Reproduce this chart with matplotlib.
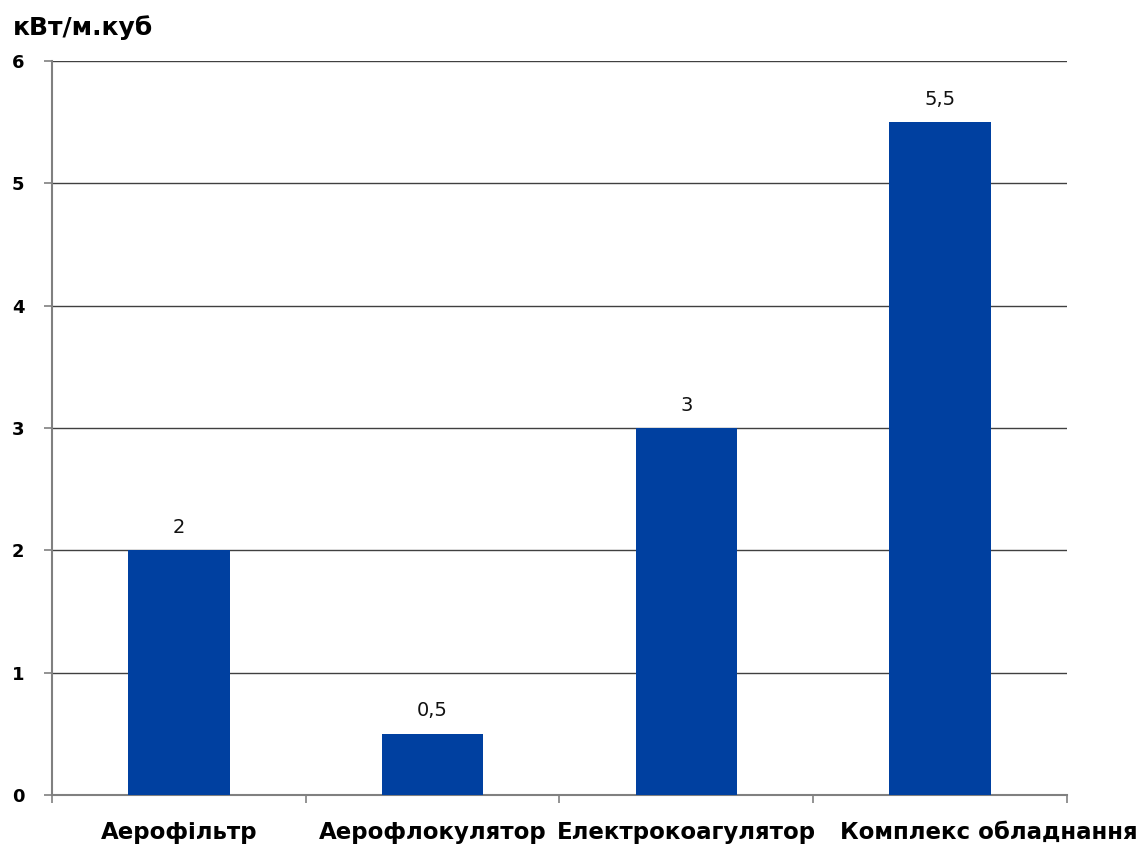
import matplotlib.pyplot as plt

categories = ['Аерофільтр', 'Аерофлокулятор', 'Електрокоагулятор', 'Комплекс обладнання']
values = [2, 0.5, 3, 5.5]
value_labels = ['2', '0,5', '3', '5,5']
y_ticks = [0, 1, 2, 3, 4, 5, 6]

plt.rcParams['font.family'] = ['DejaVu Sans']

fig = plt.figure(figsize=(11.43, 8.48), dpi=100)
ax = fig.add_axes([0.0455, 0.0625, 0.888, 0.8655])

x = list(range(len(categories)))
ax.bar(x, values, width=0.4, color='#0040a0', zorder=3)

for xi, v, lbl in zip(x, values, value_labels):
    ax.text(xi, v + 0.11, lbl, ha='center', va='bottom', fontsize=14, color='#111111')

ax.set_xlim(-0.5, len(categories) - 0.5)
ax.set_ylim(0, 6)
ax.set_yticks(y_ticks)
ax.set_yticklabels([str(t) for t in y_ticks], fontsize=13, fontweight='bold')
ax.yaxis.grid(True, color='#404040', linewidth=1, zorder=0)

# ticks sit on the boundaries between categories
ax.set_xticks([i - 0.5 for i in range(len(categories) + 1)])
ax.set_xticklabels([])
ax.tick_params(axis='x', length=6, color='#808080', width=1.2)
ax.tick_params(axis='y', length=6, color='#808080', width=1.2, pad=14)

# category names under each bar; the last one is nudged right so it doesn't collide
shifts = [0, 0, 0, 35]
for xi, name, dx in zip(x, categories, shifts):
    ax.annotate(name, xy=(xi, 0), xycoords=('data', 'axes fraction'),
                xytext=(dx, -19), textcoords='offset points',
                ha='center', va='top', fontsize=16.5, fontweight='bold',
                annotation_clip=False)

for side in ['top', 'right']:
    ax.spines[side].set_visible(False)
for side in ['left', 'bottom']:
    ax.spines[side].set_color('#808080')
    ax.spines[side].set_linewidth(1.5)

fig.text(0.011, 0.967, 'кВт/м.куб', fontsize=18, fontweight='bold', va='center')

fig.savefig('out.png', dpi=100)
